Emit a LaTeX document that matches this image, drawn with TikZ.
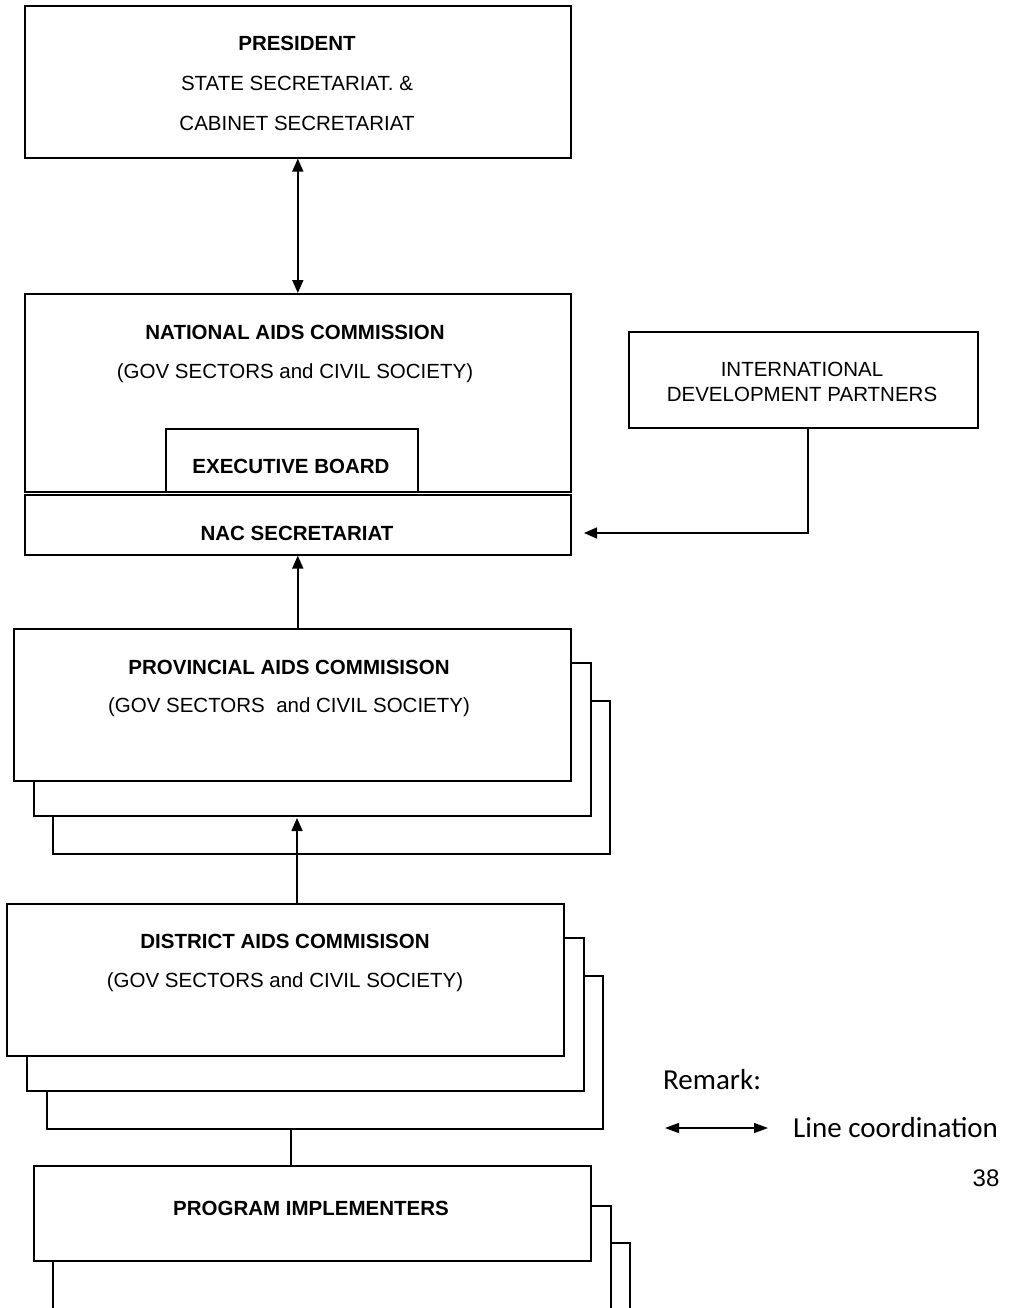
\documentclass[tikz,border=0pt]{standalone}
\usepackage{fontspec}
\setmainfont{Liberation Sans}
\newfontfamily\calibrifont{Carlito}
\usetikzlibrary{arrows.meta}
\begin{document}
\begin{tikzpicture}[x=1pt,y=-1pt,
  box/.style={draw, line width=1.6pt, fill=white, inner sep=0pt, anchor=north west},
  txt/.style={font=\fontsize{20.5}{24.5}\selectfont, inner sep=0pt, align=center},
  btxt/.style={font=\fontsize{20.5}{24.5}\selectfont\bfseries, inner sep=0pt},
  ctxt/.style={font=\calibrifont\fontsize{29}{34}\selectfont, inner sep=0pt},
  conn/.style={line width=1.6pt},
  tipend/.style={-{Triangle[length=13pt,width=11pt]}},
  tipboth/.style={{Triangle[length=13pt,width=11pt]}-{Triangle[length=13pt,width=11pt]}}]
\useasboundingbox (0,0) rectangle (1015,1308);
\clip (0,0) rectangle (1015,1308);

% President
\node[box, minimum width=546pt, minimum height=152pt] (pres) at (24,5) {};
\node[btxt] (presA) at (297,43) {PRESIDENT};
\node[txt] (presB) at (297,83) {STATE SECRETARIAT. \&};
\node[txt] (presC) at (297,123) {CABINET SECRETARIAT};

% National AIDS Commission
\node[box, minimum width=546pt, minimum height=198pt] (nac) at (24,293) {};
\node[btxt] (nacA) at (295,332) {NATIONAL AIDS COMMISSION};
\node[txt] (nacB) at (295,373) {(GOV SECTORS and CIVIL SOCIETY)};
\node[box, minimum width=252pt, minimum height=63pt] (exec) at (165,428) {};
\node[btxt] (execT) at (291,466) {EXECUTIVE BOARD};
\node[box, minimum width=546pt, minimum height=60pt] (sec) at (24,494) {};
\node[btxt] (secT) at (297,533) {NAC SECRETARIAT};

% International development partners
\node[box, minimum width=349pt, minimum height=96pt] (idp) at (628,331) {};
\node[txt] (idpT) at (802,382) {INTERNATIONAL\\DEVELOPMENT PARTNERS};
\coordinate (idptip) at (584,533);
\draw[conn, tipend] (idp.south -| 808,0) |- (idptip);

% President <-> NAC
\draw[conn, tipboth] (pres.south) -- (nac.north);

% Provincial
\node[box, minimum width=557pt, minimum height=153pt] (prov3) at (52,700) {};
\node[box, minimum width=557pt, minimum height=153pt] (prov2) at (33,662) {};
\node[box, minimum width=557pt, minimum height=152pt] (prov) at (13,628) {};
\node[btxt] (provA) at (289,667) {PROVINCIAL AIDS COMMISISON};
\node[txt] (provB) at (289,707) {(GOV SECTORS\ \ and CIVIL SOCIETY)};
\draw[conn, tipend] (sec.south |- prov.north) -- (sec.south);

% District
\node[box, minimum width=556pt, minimum height=153pt] (dist3) at (46,975) {};
\node[box, minimum width=557pt, minimum height=153pt] (dist2) at (26,937) {};
\node[box, minimum width=557pt, minimum height=152pt] (dist) at (6,903) {};
\node[btxt] (distA) at (285,941) {DISTRICT AIDS COMMISISON};
\node[txt] (distB) at (285,982) {(GOV SECTORS and CIVIL SOCIETY)};
\coordinate (provtip) at (297,818);
\draw[conn, tipend] (dist.north -| provtip) -- (provtip);

% Program implementers
\node[box, minimum width=558pt, minimum height=200pt] (prog3) at (71,1242) {};
\node[box, minimum width=558pt, minimum height=200pt] (prog2) at (52,1205) {};
\node[box, minimum width=557pt, minimum height=95pt] (prog) at (33,1165) {};
\node[btxt] (progT) at (311,1208) {PROGRAM IMPLEMENTERS};
\coordinate (dline) at (291,0);
\draw[conn] (dist3.south -| dline) -- (prog.north -| dline);

% Legend
\node[ctxt, anchor=west] (remark) at (663,1080) {Remark:};
\coordinate (legA) at (665,1128);
\coordinate (legB) at (768,1128);
\draw[line width=1.3pt, {Triangle[length=14pt,width=10pt]}-{Triangle[length=14pt,width=10pt]}] (legA) -- (legB);
\node[ctxt, anchor=west] (legT) at (793,1128) {Line coordination};

% Page number
\node[txt, font=\fontsize{24}{28}\selectfont] (pagenum) at (986,1178) {38};
\end{tikzpicture}
\end{document}
